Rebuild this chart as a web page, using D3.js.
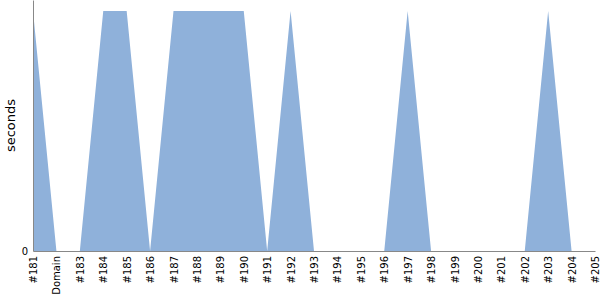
<!DOCTYPE html>
<html>
<head>
<meta charset="utf-8">
<script src="https://cdn.jsdelivr.net/npm/d3@7"></script>
<style>
  body { margin: 0; background: #fff; }
  #chart text { font-family: "DejaVu Sans", Verdana, sans-serif !important; }
</style>
</head>
<body>
<div id="chart"></div>
<script>
// build names along the x axis
let builds = ['#181', 'Domain', '#183', '#184', '#185', '#186', '#187', '#188', '#189', '#190',
    '#191', '#192', '#193', '#194', '#195', '#196', '#197', '#198', '#199', '#200',
    '#201', '#202', '#203', '#204', '#205'];
// seconds per build
let seconds = [1, 0, 0, 1, 1, 0, 1, 1, 1, 1,
    0, 1, 0, 0, 0, 0, 1, 0, 0, 0,
    0, 0, 1, 0, 0];
let yTicks = [0];

let width = 600, height = 300;
let margin = {top: 0, right: 5, bottom: 49, left: 33};
let areaColor = '#8fb1da',
    axisColor = '#888';

let svg = d3.select('#chart').append('svg')
    .attr('width', width)
    .attr('height', height);

let x = d3.scalePoint()
    .domain(builds)
    .range([margin.left, width - margin.right]);

let y = d3.scaleLinear()
    .domain([0, 1.046])
    .range([height - margin.bottom, margin.top]);

let area = d3.area()
    .x(function(d, i){ return x(builds[i]); })
    .y0(y(0))
    .y1(function(d){ return y(d); });

svg.append('path')
    .datum(seconds)
    .attr('d', area)
    .attr('fill', areaColor);

// x axis
let xAxis = svg.append('g')
    .attr('transform', 'translate(0,' + y(0) + ')')
    .call(d3.axisBottom(x).tickSize(0).tickPadding(4));
xAxis.select('.domain').attr('stroke', axisColor);
xAxis.selectAll('text')
    .style('font-size', '10px')
    .attr('fill', '#000')
    .attr('transform', 'rotate(-90)')
    .attr('text-anchor', 'end')
    .attr('x', -5)
    .attr('y', 0)
    .attr('dy', '0.35em');

// y axis
let yAxis = svg.append('g')
    .attr('transform', 'translate(' + margin.left + ',0)')
    .call(d3.axisLeft(y).tickValues(yTicks).tickFormat(d3.format('d')).tickSize(0).tickPadding(5));
yAxis.select('.domain').attr('stroke', axisColor);
yAxis.selectAll('text').style('font-size', '10px').attr('fill', '#000');

svg.append('text')
    .attr('transform', 'translate(15,' + ((height - margin.bottom) / 2) + ') rotate(-90)')
    .attr('text-anchor', 'middle')
    .style('font-size', '13px')
    .text('seconds');
</script>
</body>
</html>
